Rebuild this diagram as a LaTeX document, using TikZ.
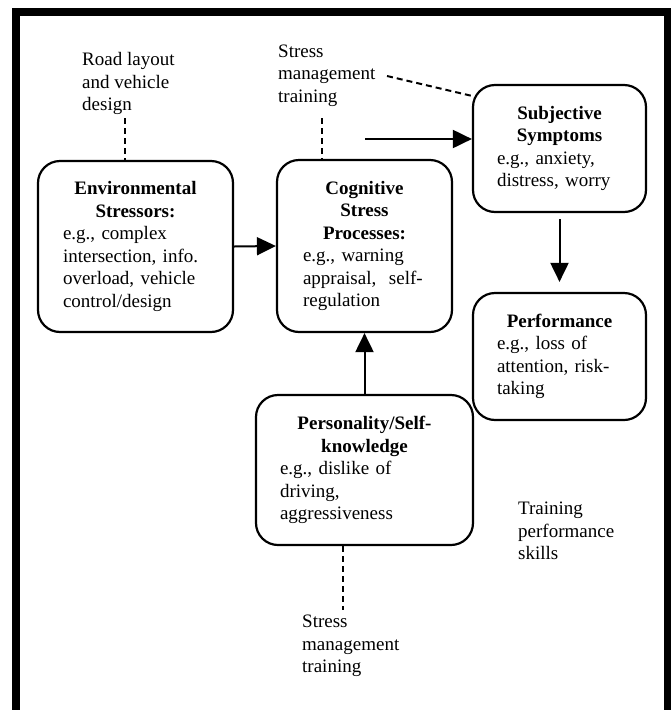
\documentclass[tikz,border=0pt]{standalone}
\usepackage{fontspec}
\setmainfont{Liberation Serif}
\usetikzlibrary{arrows.meta}

\begin{document}
\begin{tikzpicture}[x=1pt, y=-1pt,
  font=\fontsize{19}{22.5}\selectfont,
  box/.style={draw, line width=2.2pt, rounded corners=22pt, align=left, inner sep=0pt},
  note/.style={align=left, inner sep=0pt, anchor=west},
  arr/.style={line width=2pt, -{Triangle[length=19pt, width=18pt]}},
  dline/.style={line width=2pt, dash pattern=on 6pt off 4pt}]

\useasboundingbox (0, 0) rectangle (671, 710);
\draw[line width=8pt] (16, 710) -- (16, 12) -- (667.5, 12) -- (667.5, 710);

% boxes
\node[box, minimum width=195pt, minimum height=171pt, text width=145pt] (env) at (135.5, 246.5)
    {{\centering\bfseries Environmental\\Stressors:\par}e.g., complex\\intersection, info.\\overload, vehicle\\control/design};
\node[box, minimum width=175pt, minimum height=172pt, text width=123pt] (cog) at (364.5, 246)
    {{\centering\bfseries Cognitive\\Stress\\Processes:\par}e.g., warning\\appraisal,~ self-\\regulation};
\node[box, minimum width=173pt, minimum height=127pt, text width=125pt] (subj) at (559.5, 148.5)
    {{\centering\bfseries Subjective\\Symptoms\par}e.g., anxiety,\\distress, worry};
\node[box, minimum width=173pt, minimum height=127pt, text width=125pt] (perf) at (559.5, 356.5)
    {{\centering\bfseries Performance\par}e.g., loss of\\attention, risk-\\taking};
\node[box, minimum width=217pt, minimum height=150pt, text width=169pt] (pers) at (364.5, 470)
    {{\centering\bfseries Personality/Self-\\knowledge\par}e.g., dislike of\\driving,\\aggressiveness};

% free texts
\node[note] (road) at (82, 83.5) {Road layout\\and vehicle\\design};
\node[note] (smtop) at (278, 75.5) {Stress\\management\\training};
\node[note] (smbot) at (302, 646) {Stress\\management\\training};
\node[note] (skills) at (518, 531) {Training\\performance\\skills};

% arrows
\coordinate (hstart) at (365, 139);
\draw[arr] (env.east) -- (cog.west);
\draw[arr] (hstart) -- (hstart -| subj.west);
\draw[arr, shorten <=6pt, shorten >=10pt] (subj.south) -- (perf.north);
\draw[arr] (pers.north) -- (cog.south);

% dashed links
\coordinate (roadend) at (125, 118);
\coordinate (smtopend) at (322, 118);
\coordinate (smdiag) at (387, 76);
\coordinate (smbotend) at (343, 610);
\draw[dline] (roadend) -- (roadend |- env.north);
\draw[dline] (smtopend) -- (smtopend |- cog.north);
\draw[dline] (smdiag) -- ([yshift=-12pt]subj.north west);
\draw[dline] (smbotend |- pers.south) -- (smbotend);

\end{tikzpicture}
\end{document}
